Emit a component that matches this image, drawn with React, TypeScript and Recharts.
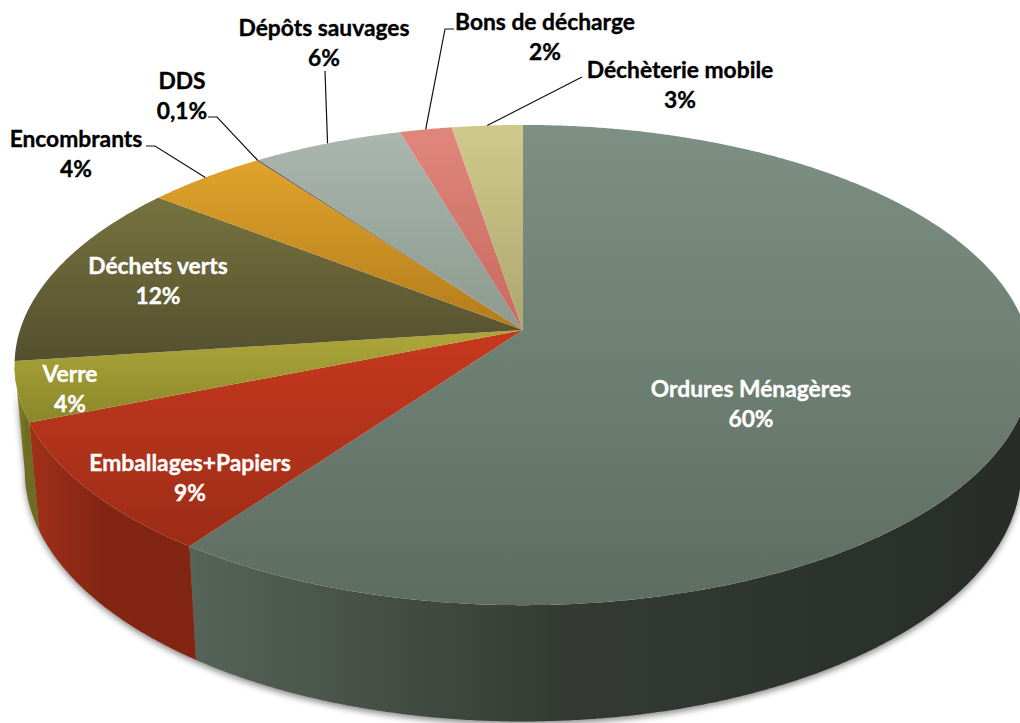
import React from "react";
import { PieChart, Pie } from "recharts";

const categories = ["Ordures Ménagères", "Emballages+Papiers", "Verre", "Déchets verts", "Encombrants", "DDS", "Dépôts sauvages", "Bons de décharge", "Déchèterie mobile"];
const percentLabels = ["60%", "9%", "4%", "12%", "4%", "0,1%", "6%", "2%", "3%"];
// slice sizes
const sliceValues = [60, 9, 4, 12.6, 4.4, 0.1, 5.5, 1.9, 2.6];

const topLight = ["#7d9083", "#c7391e", "#aea73a", "#77733f", "#e0a32b", "#7a6a50", "#aab6ae", "#e0867c", "#d0c98c"];
const topDark = ["#5e6d62", "#9c2c17", "#8a8729", "#544f2e", "#b27c1b", "#7a6a50", "#8b998f", "#c76a5f", "#ada76c"];
const wallLight = ["#566459", "#a03119", "#8f8c2e", "#544f2e", "#b27c1b", "#7a6a50", "#8b998f", "#c76a5f", "#ada76c"];
const wallDark = ["#272c28", "#822513", "#6e6c22", "#544f2e", "#b27c1b", "#7a6a50", "#8b998f", "#c76a5f", "#ada76c"];

// text centre, colour, leader elbow points
const labelLayout = [
  { x: 751, y: 389, color: "#fff", leader: [] },
  { x: 190, y: 463, color: "#fff", leader: [] },
  { x: 70, y: 374, color: "#fff", leader: [] },
  { x: 158, y: 266, color: "#fff", leader: [] },
  { x: 76, y: 139, color: "#000", leader: [[146, 146], [155, 146]] },
  { x: 182, y: 81, color: "#000", leader: [[208, 117], [217, 117]] },
  { x: 324, y: 28, color: "#000", leader: [[325, 71]] },
  { x: 545, y: 22, color: "#000", leader: [[454, 29], [445, 29]] },
  { x: 680, y: 70, color: "#000", leader: [[582, 77]] },
];

const tableData = categories.map((name, i) => ({ name, value: sliceValues[i] }));

const TILT = 0.4672;
const PERSPECTIVE = 0.146;
const DEPTH = 104;
const WALL_FROM = 98.4;
const WALL_TO = 261.6;
const rad = Math.PI / 180;

// clock angle (degrees from 12 o'clock) -> screen point on the tilted disc
function rim(cx: number, cy: number, r: number, clock: number, lower = false) {
  const s = Math.sin(clock * rad);
  const c = Math.cos(clock * rad);
  const w = 1 + PERSPECTIVE * c;
  const scale = lower ? 0.98 : 1;
  return {
    x: cx + (r * s * scale) / w,
    y: cy - (r * TILT * c * scale) / w + (lower ? DEPTH / w : 0),
  };
}

function arc(cx: number, cy: number, r: number, a: number, b: number, lower = false) {
  const pts = [];
  const n = Math.max(2, Math.ceil(Math.abs(b - a) * 3));
  for (let i = 0; i <= n; i++) {
    const p = rim(cx, cy, r, a + ((b - a) * i) / n, lower);
    pts.push(`${p.x.toFixed(1)},${p.y.toFixed(1)}`);
  }
  return pts;
}

function TopFace(props: any) {
  const { cx, cy, outerRadius, startAngle, endAngle, index } = props;
  const a = 90 - startAngle;
  const b = 90 - endAngle;
  const pts = arc(cx, cy, outerRadius, a, b);
  return <path d={`M${cx},${cy} L${pts.join(" L")} Z`} fill={`url(#top${index})`} stroke="none" />;
}

function WallFace(props: any) {
  const { cx, cy, outerRadius, startAngle, endAngle, index } = props;
  const a = Math.max(90 - startAngle, WALL_FROM);
  const b = Math.min(90 - endAngle, WALL_TO);
  if (b <= a) return <g />;
  const upper = arc(cx, cy, outerRadius, a, b);
  const lower = arc(cx, cy, outerRadius, b, a, true);
  return <path d={`M${upper.join(" L")} L${lower.join(" L")} Z`} fill={`url(#wall${index})`} stroke="none" />;
}

function SliceLabel(props: any) {
  const { cx, cy, outerRadius, midAngle, index } = props;
  const layout = labelLayout[index];
  const end = rim(cx, cy, outerRadius, 90 - midAngle);
  const line = [...layout.leader, [end.x, end.y]];
  const textProps = {
    textAnchor: "middle" as const,
    fill: layout.color,
    stroke: layout.color,
    strokeWidth: 0.35,
    fontFamily: "Lato",
    fontWeight: 700,
    fontSize: 22.8,
  };
  return (
    <g>
      {layout.leader.length > 0 && (
        <polyline points={line.map((p) => p.join(",")).join(" ")} fill="none" stroke="#111" strokeWidth={1.2} />
      )}
      <text x={layout.x} y={layout.y} dy="0.35em" {...textProps}>
        {categories[index]}
      </text>
      <text x={layout.x} y={layout.y + 30} dy="0.35em" {...textProps}>
        {percentLabels[index]}
      </text>
    </g>
  );
}

export default function App() {
  return (
    <div style={{ position: "absolute", left: 0, top: 0, width: 1020, height: 723, overflow: "hidden", background: "#fff" }}>
      <style>{`.pie-walls { filter: drop-shadow(0 3px 3px rgba(0,0,0,0.45)); }`}</style>
      <PieChart width={1020} height={723} margin={{ top: 0, right: 0, bottom: 0, left: 0 }}>
        <defs>
          {categories.map((_, i) => (
            <linearGradient key={`t${i}`} id={`top${i}`} x1="0" y1="0" x2="0" y2="1">
              <stop offset="0%" stopColor={topLight[i]} />
              <stop offset="100%" stopColor={topDark[i]} />
            </linearGradient>
          ))}
          {categories.map((_, i) => (
            <linearGradient key={`w${i}`} id={`wall${i}`} x1="0" y1="0" x2="1" y2="0">
              <stop offset="0%" stopColor={wallLight[i]} />
              <stop offset="45%" stopColor={i === 0 ? "#343a33" : wallDark[i]} />
              <stop offset="100%" stopColor={wallDark[i]} />
            </linearGradient>
          ))}
        </defs>
        <Pie
          className="pie-walls"
          data={tableData}
          dataKey="value"
          nameKey="name"
          cx={523}
          cy={330}
          innerRadius={0}
          outerRadius={503}
          startAngle={90}
          endAngle={-270}
          stroke="none"
          shape={WallFace}
          label={false}
          labelLine={false}
          isAnimationActive={false}
        />
        <Pie
          data={tableData}
          dataKey="value"
          nameKey="name"
          cx={523}
          cy={330}
          innerRadius={0}
          outerRadius={503}
          startAngle={90}
          endAngle={-270}
          stroke="none"
          shape={TopFace}
          label={SliceLabel}
          labelLine={false}
          isAnimationActive={false}
        />
      </PieChart>
    </div>
  );
}
